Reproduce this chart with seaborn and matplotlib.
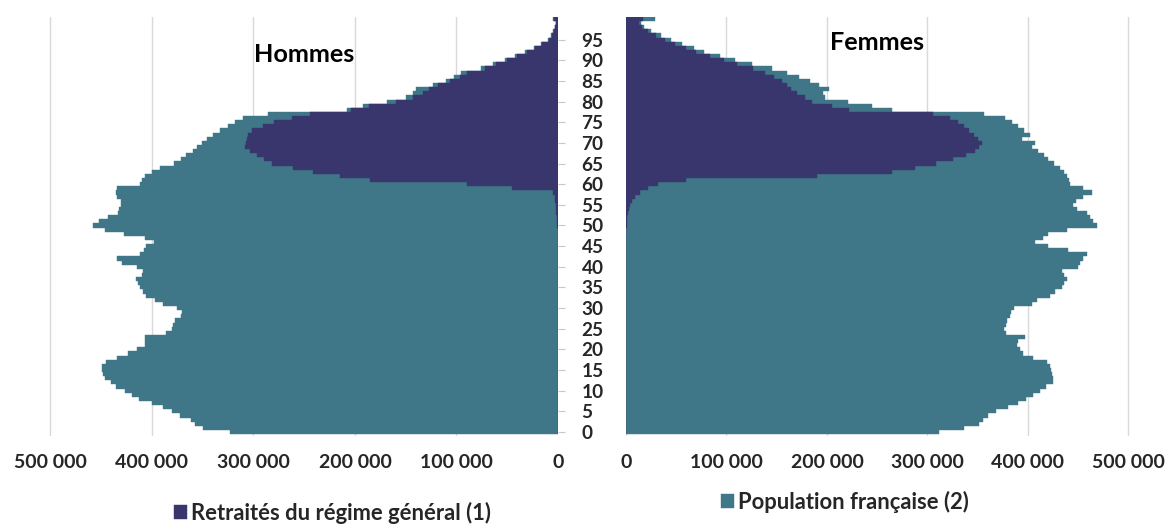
import matplotlib
matplotlib.use("Agg")
import matplotlib.pyplot as plt
import seaborn as sns
import pandas as pd
from matplotlib.ticker import FixedLocator, FuncFormatter
from matplotlib.font_manager import FontProperties

# ---------------- data (thousands of people) ----------------
ages = list(range(0, 101))

men_pop = [323, 350, 358, 362, 372, 380, 389, 400, 413, 420,
           427, 435, 440, 446, 448, 449, 449, 445, 434, 424,
           415, 407, 407, 407, 386, 380, 379, 377, 371, 370,
           375, 389, 397, 406, 409, 412, 414, 416, 410, 409,
           415, 430, 434, 412, 408, 406, 398, 407, 428, 446,
           458, 452, 443, 433, 432, 431, 431, 434, 435, 434,
           412, 410, 407, 400, 392, 378, 371, 366, 360, 356,
           351, 346, 340, 333, 325, 318, 310, 286, 208, 192,
           168, 150, 143, 140, 123, 110, 102, 96, 76, 64,
           52, 42, 33, 24, 17, 10, 7, 5, 3, 2,
           5]

men_ret = [0] * 50 + [
           1, 1, 1, 2, 2, 2, 3, 3, 5, 45,
           90, 185, 215, 241, 261, 282, 290, 297, 303, 308,
           307, 306, 305, 301, 291, 280, 262, 244, 204, 186,
           160, 143, 133, 127, 118, 106, 97, 90, 72, 61,
           50, 40, 31, 23, 16, 9, 6, 4, 3, 2,
           4]

women_pop = [311, 336, 351, 355, 360, 368, 380, 390, 398, 405,
             412, 418, 425, 425, 424, 423, 422, 419, 405, 395,
             392, 389, 390, 397, 378, 376, 378, 379, 382, 383,
             386, 404, 409, 422, 427, 434, 436, 439, 436, 434,
             450, 452, 455, 459, 440, 420, 407, 415, 420, 439,
             469, 465, 462, 459, 449, 445, 448, 455, 464, 455,
             442, 441, 439, 436, 432, 426, 420, 416, 410, 404,
             407, 394, 402, 396, 390, 384, 377, 356, 265, 245,
             221, 198, 196, 202, 192, 183, 172, 160, 145, 125,
             108, 94, 78, 68, 56, 45, 35, 25, 18, 15,
             29]

women_ret = [0] * 50 + [
             1, 1, 1, 2, 3, 4, 6, 9, 14, 22,
             32, 60, 190, 265, 288, 308, 325, 338, 347, 351,
             354, 350, 346, 341, 336, 330, 322, 305, 222, 205,
             185, 178, 170, 164, 160, 155, 147, 138, 126, 110,
             98, 84, 70, 60, 49, 39, 30, 22, 16, 13,
             17]

x_ticks = [0, 100, 200, 300, 400, 500]
y_ticks = list(range(0, 100, 5))
label_ret = "Retraités du régime général (1)"
label_pop = "Population française (2)"

TEAL = "#3F7789"
NAVY = "#38366D"
FAMILY = ["Lato", "DejaVu Sans"]

sns.set_theme(style="white")
plt.rcParams["font.family"] = FAMILY
plt.rcParams["font.weight"] = "bold"

df_m = pd.DataFrame({"age": ages, "pop": men_pop, "ret": men_ret})
df_f = pd.DataFrame({"age": ages, "pop": women_pop, "ret": women_ret})

W, H = 1168, 529
fig = plt.figure(figsize=(W / 100, H / 100), dpi=100)
renderer = fig.canvas.get_renderer()


def fit(text, target_px):
    """font size (pt) giving the text the wanted pixel width"""
    fp = FontProperties(family=FAMILY, weight="bold", size=10)
    w, _, _ = renderer.get_text_width_height_descent(text, fp, ismath=False)
    return 10 * target_px / w


fs_x = fit("500 000", 73)
fs_y = fit("95", 22)
fs_title = fit("Hommes", 101)
fs_leg = (fit(label_ret, 300) + fit(label_pop, 232)) / 2

bottom = (H - 435.7) / H
height = 419.2 / H
ax_l = fig.add_axes([45.4 / W, bottom, 512.6 / W, height])
ax_r = fig.add_axes([626 / W, bottom, 507.5 / W, height])

for ax, df in ((ax_l, df_m), (ax_r, df_f)):
    sns.barplot(data=df, x="pop", y="age", orient="y", native_scale=True,
                color=TEAL, saturation=1, width=1.0, errorbar=None,
                edgecolor=TEAL, linewidth=0.3, ax=ax)
    sns.barplot(data=df, x="ret", y="age", orient="y", native_scale=True,
                color=NAVY, saturation=1, width=1.0, errorbar=None,
                edgecolor=NAVY, linewidth=0.3, ax=ax)
    ax.set_xlabel("")
    ax.set_ylabel("")
    ax.set_ylim(-0.9, 100.6)
    ax.xaxis.set_major_locator(FixedLocator(x_ticks))
    ax.xaxis.set_major_formatter(FuncFormatter(
        lambda v, p: f"{int(round(v * 1000)):,}".replace(",", " ")))
    ax.grid(axis="x", color="#d9d9d9", linewidth=1)
    ax.grid(axis="y", visible=False)
    ax.set_axisbelow(True)
    for s in ax.spines.values():
        s.set_visible(False)
    ax.tick_params(axis="x", length=0, pad=13, labelsize=fs_x,
                   labelcolor="#262626")

ax_l.set_xlim(505, 0)
ax_r.set_xlim(0, 505)

ax_l.yaxis.tick_right()
ax_l.set_yticks(y_ticks)
ax_l.set_yticklabels([str(a) for a in y_ticks])
ax_l.tick_params(axis="y", right=True, length=5, width=0.8, color="#c8c8c8",
                 pad=12, labelsize=fs_y, labelcolor="#262626")
ax_r.set_yticks([])

ax_l.text(250, 89.6, "Hommes", ha="center", va="baseline",
          fontsize=fs_title, fontweight="bold", color="black")
ax_r.text(249.5, 92.4, "Femmes", ha="center", va="baseline",
          fontsize=fs_title, fontweight="bold", color="black")

fs_px = fs_leg * 100 / 72
sq = 12.5 / fs_px
gap = 4 / fs_px
fig.legend([ax_l.containers[1]], [label_ret],
           loc="center left", bbox_to_anchor=(174 / W, (H - 513) / H),
           frameon=False, fontsize=fs_leg, handlelength=sq, handleheight=sq,
           handletextpad=gap, labelcolor="#262626", borderpad=0,
           borderaxespad=0)
fig.legend([ax_r.containers[0]], [label_pop],
           loc="center left", bbox_to_anchor=(721 / W, (H - 502) / H),
           frameon=False, fontsize=fs_leg, handlelength=sq, handleheight=sq,
           handletextpad=gap, labelcolor="#262626", borderpad=0,
           borderaxespad=0)

fig.savefig("out.png", dpi=100)
